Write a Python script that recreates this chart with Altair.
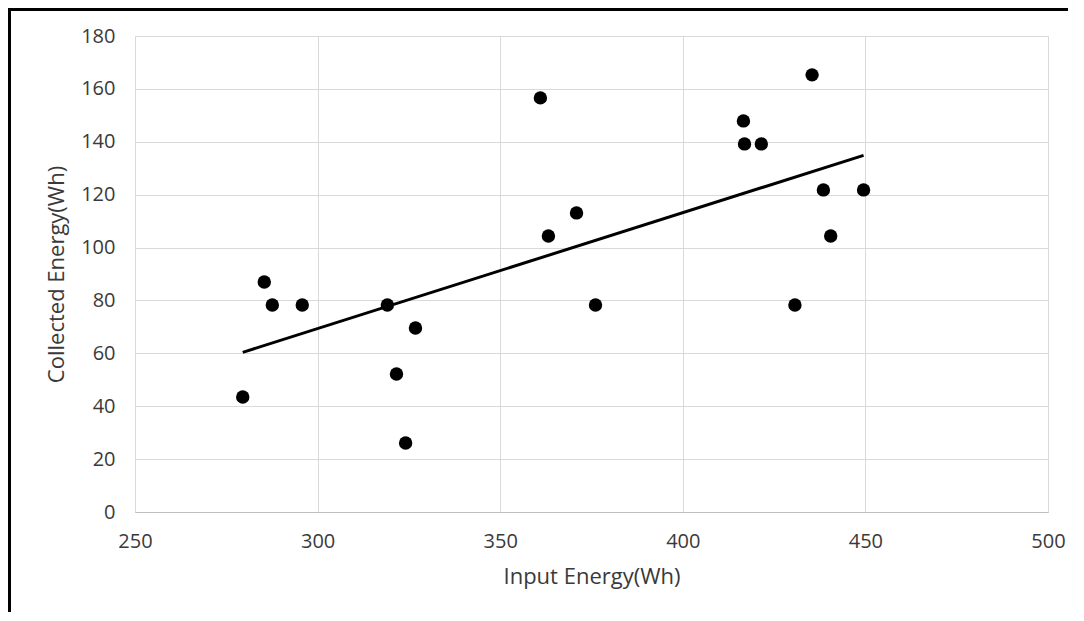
import altair as alt
import pandas as pd

input_energy = [279.5, 285.4, 287.6, 295.8, 319.1, 321.6, 324.1, 326.8, 361.0, 363.2,
                370.9, 376.1, 416.6, 416.9, 421.5, 435.4, 438.5, 449.5, 440.5, 430.7]
collected_energy = [43.5, 87.0, 78.3, 78.3, 78.3, 52.2, 26.1, 69.6, 156.6, 104.4,
                    113.1, 78.3, 147.9, 139.2, 139.2, 165.3, 121.8, 121.8, 104.4, 78.3]
x_ticks = [250, 300, 350, 400, 450, 500]
y_ticks = [0, 20, 40, 60, 80, 100, 120, 140, 160, 180]

df = pd.DataFrame({"x": input_energy, "y": collected_energy})
FONT = "Open Sans"
TXT = "#3a3a3a"

xenc = alt.X("x:Q", title="Input Energy(Wh)",
             scale=alt.Scale(domain=[250, 500], nice=False, zero=False),
             axis=alt.Axis(values=x_ticks, grid=True, gridColor="#d9d9d9", gridWidth=1,
                           domain=True, domainColor="#bfbfbf", ticks=False,
                           labelFlush=False, labelOverlap=False,
                           labelFont=FONT, labelFontSize=20, labelColor=TXT,
                           labelPadding=19, titleFont=FONT, titleFontSize=22,
                           titleFontWeight="normal", titleColor=TXT, titlePadding=15))
yenc = alt.Y("y:Q", title="Collected Energy(Wh)",
             scale=alt.Scale(domain=[0, 180], nice=False),
             axis=alt.Axis(values=y_ticks, grid=True, gridColor="#d9d9d9", gridWidth=1,
                           domain=False, ticks=False, labelFlush=False, labelOverlap=False,
                           labelFont=FONT, labelFontSize=20, labelColor=TXT,
                           labelPadding=20, titleFont=FONT, titleFontSize=22,
                           titleFontWeight="normal", titleColor=TXT, titlePadding=12))

base = alt.Chart(df)
points = base.mark_circle(size=180, color="black", opacity=1).encode(x=xenc, y=yenc)
trend = base.transform_regression("x", "y").mark_line(color="black", strokeWidth=3).encode(
    x="x:Q", y="y:Q")

frame_top = alt.Chart(df).mark_rule(color="black", strokeWidth=2.5, clip=False).encode(
    x=alt.value(-127), x2=alt.value(1000), y=alt.value(-27))
frame_left = alt.Chart(df).mark_rule(color="black", strokeWidth=2.5, clip=False).encode(
    x=alt.value(-126), y=alt.value(-28), y2=alt.value(620))

chart = alt.layer(frame_top, frame_left, trend, points).properties(
    width=913, height=476,
    autosize=alt.AutoSizeParams(type="none"),
    padding={"left": 127, "top": 28, "right": 20, "bottom": 100},
).configure_view(stroke="#d9d9d9").configure(background="white")

chart.save("out.html", embed_options={"renderer": "svg", "actions": False})
